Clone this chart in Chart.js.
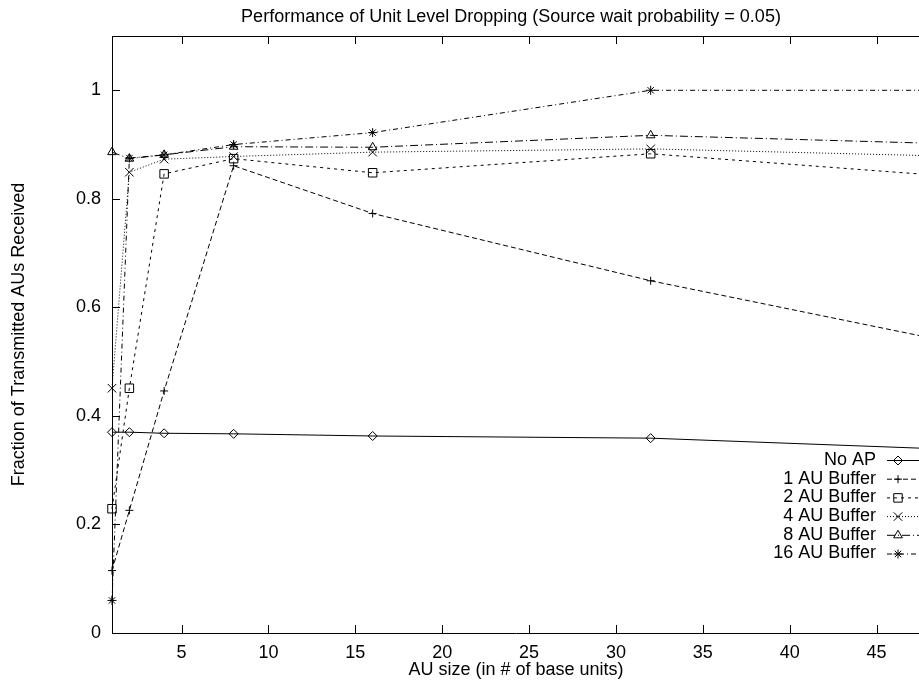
<!DOCTYPE html>
<html>
<head>
<meta charset="utf-8">
<script src="https://cdn.jsdelivr.net/npm/chart.js@4.4.1/dist/chart.umd.min.js"></script>
<style>
  html, body { margin: 0; padding: 0; background: #fff; overflow: hidden; }
  #wrap { width: 919px; height: 681px; overflow: hidden; }
  canvas { display: block; }
</style>
</head>
<body>
<div id="wrap"><canvas id="chartCanvas" width="927" height="681"></canvas></div>
<script>
// DATA (x = 64 lies past the cropped right edge)
const auSizes = [1, 2, 4, 8, 16, 32, 64];
const noAP = [0.370, 0.370, 0.368, 0.367, 0.363, 0.359, 0.321];
const au1Buffer = [0.115, 0.226, 0.446, 0.861, 0.773, 0.649, 0.44];
const au2Buffer = [0.229, 0.451, 0.846, 0.874, 0.848, 0.883, 0.806];
const au4Buffer = [0.451, 0.849, 0.873, 0.878, 0.886, 0.892, 0.867];
const au8Buffer = [0.886, 0.874, 0.881, 0.896, 0.895, 0.917, 0.888];
const au16Buffer = [0.060, 0.875, 0.881, 0.900, 0.922, 1.0, 1.0];

const seriesNames = ['No AP', '1 AU Buffer', '2 AU Buffer', '4 AU Buffer', '8 AU Buffer', '16 AU Buffer'];
const xTicks = [5, 10, 15, 20, 25, 30, 35, 40, 45];
const yTicks = [0, 0.2, 0.4, 0.6, 0.8, 1];

const titleText = 'Performance of Unit Level Dropping (Source wait probability = 0.05)';
const xLabel = 'AU size (in # of base units)';
const yLabel = 'Fraction of Transmitted AUs Received';

const FONT = '"Liberation Sans", Arial, Helvetica, sans-serif';

// STYLES
const styles = [
    { dash: [], point: 'rectRot', radius: 4.5 },
    { dash: [5, 3], point: 'cross', radius: 4 },
    { dash: [3, 4], point: 'rect', radius: 6 },
    { dash: [1, 2], point: 'crossRot', radius: 6 },
    { dash: [8, 3, 1, 3], point: 'triangle', radius: 5 },
    { dash: [5, 3, 1, 3], point: 'star', radius: 4.5 }
];

const allSeries = [noAP, au1Buffer, au2Buffer, au4Buffer, au8Buffer, au16Buffer];

const datasets = allSeries.map((values, i) => ({
    label: seriesNames[i],
    data: values.map((v, j) => ({ x: auSizes[j], y: v })),
    borderColor: '#000',
    borderWidth: 1,
    borderDash: styles[i].dash,
    pointStyle: styles[i].point,
    pointRadius: styles[i].radius,
    pointBorderColor: '#000',
    pointBorderWidth: 1,
    pointBackgroundColor: 'rgba(0,0,0,0)',
    fill: false,
    tension: 0,
    clip: { left: 10, right: 0, top: 6, bottom: 6 }
}));

// gnuplot-like frame: white bg, inward ticks, top border, title, key
const gnuplotFrame = {
    id: 'gnuplotFrame',
    beforeDraw(chart) {
        const ctx = chart.ctx;
        ctx.save();
        ctx.fillStyle = '#fff';
        ctx.fillRect(0, 0, chart.width, chart.height);
        ctx.restore();
    },
    afterDraw(chart) {
        const ctx = chart.ctx;
        const { left, right, top, bottom } = chart.chartArea;
        const xs = chart.scales.x;
        const ys = chart.scales.y;
        ctx.save();
        ctx.strokeStyle = '#000';
        ctx.lineWidth = 1;
        ctx.setLineDash([]);
        ctx.beginPath();
        ctx.moveTo(left, top + 0.5);
        ctx.lineTo(right, top + 0.5);
        xs.ticks.forEach(t => {
            const px = Math.round(xs.getPixelForValue(t.value)) + 0.5;
            ctx.moveTo(px, bottom);
            ctx.lineTo(px, bottom - 8);
            ctx.moveTo(px, top);
            ctx.lineTo(px, top + 8);
        });
        ys.ticks.forEach(t => {
            const py = Math.round(ys.getPixelForValue(t.value)) + 0.5;
            ctx.moveTo(left, py);
            ctx.lineTo(left + 8, py);
        });
        ctx.stroke();

        // title
        ctx.fillStyle = '#000';
        ctx.font = '18px ' + FONT;
        ctx.textAlign = 'center';
        ctx.textBaseline = 'middle';
        ctx.fillText(titleText, 511, 17);

        // key
        const textRight = 876;
        const lineStart = 887;
        const markX = 898;
        chart.data.datasets.forEach((ds, i) => {
            const y = 460 + i * 18.7;
            ctx.fillStyle = '#000';
            ctx.textAlign = 'right';
            ctx.fillText(ds.label, textRight, y);
            ctx.beginPath();
            ctx.setLineDash(ds.borderDash);
            ctx.moveTo(lineStart, y + 0.5);
            ctx.lineTo(chart.width, y + 0.5);
            ctx.stroke();
            ctx.setLineDash([]);
            ctx.fillStyle = 'rgba(0,0,0,0)';
            Chart.helpers.drawPoint(ctx, {
                pointStyle: ds.pointStyle,
                radius: ds.pointRadius,
                rotation: 0,
                borderWidth: 1
            }, markX, y + 0.5);
        });
        ctx.restore();
    }
};

Chart.defaults.font.family = FONT;
Chart.defaults.font.size = 18;
Chart.defaults.color = '#000';

const ctx = document.getElementById('chartCanvas').getContext('2d');
new Chart(ctx, {
    type: 'line',
    data: { datasets },
    options: {
        responsive: false,
        animation: false,
        devicePixelRatio: 1,
        layout: { padding: { top: 36, left: 0, right: 0, bottom: 0 } },
        plugins: {
            legend: { display: false },
            title: { display: false },
            tooltip: { enabled: false }
        },
        scales: {
            x: {
                type: 'linear',
                min: 1,
                max: 47.5,
                afterBuildTicks: s => { s.ticks = xTicks.map(v => ({ value: v })); },
                afterFit: s => { s.height = 48; },
                grid: { display: false, drawTicks: false },
                border: { display: true, color: '#000', width: 1 },
                ticks: { padding: 9, maxRotation: 0, autoSkip: false },
                title: { display: true, text: xLabel, padding: { top: 0, bottom: 0 } }
            },
            y: {
                type: 'linear',
                min: 0,
                max: 1.1,
                afterBuildTicks: s => { s.ticks = yTicks.map(v => ({ value: v })); },
                afterFit: s => { s.width = 112; },
                grid: { display: false, drawTicks: false },
                border: { display: true, color: '#000', width: 1 },
                ticks: { padding: 11, callback: v => String(Math.round(v * 10) / 10) },
                title: { display: true, text: yLabel, padding: { top: 8, bottom: 0 } }
            }
        }
    },
    plugins: [gnuplotFrame]
});
</script>
</body>
</html>
